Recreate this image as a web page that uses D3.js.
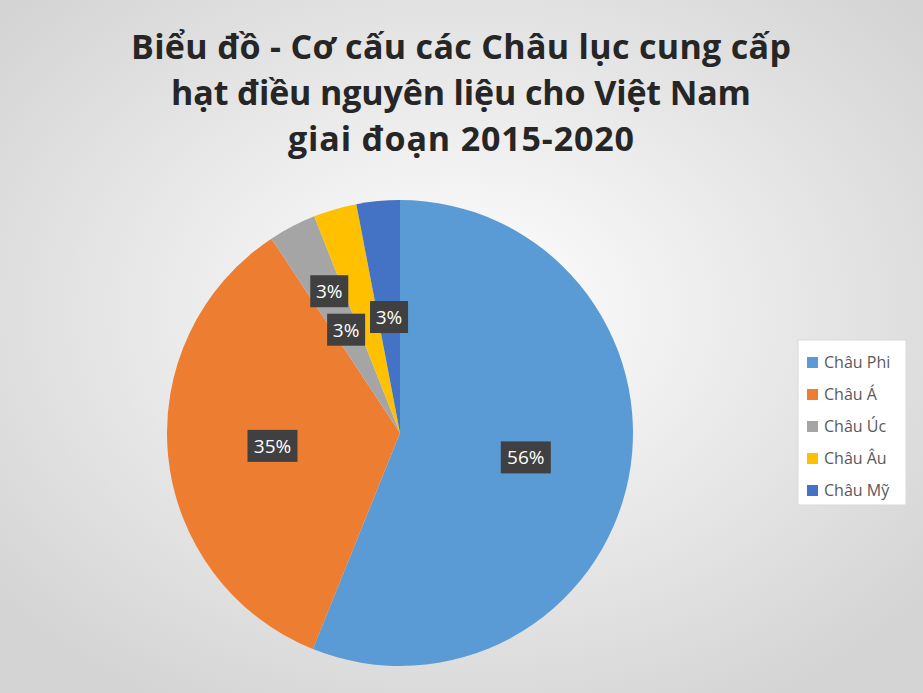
<!DOCTYPE html>
<html><head><meta charset="utf-8">
<script src="https://cdn.jsdelivr.net/npm/d3@7"></script>
<style>body{margin:0;}svg{display:block;}</style>
</head><body>
<script>
const categories = ["Châu Phi", "Châu Á", "Châu Úc", "Châu Âu", "Châu Mỹ"];
const values = [56.1, 34.6, 3.3, 3.0, 3.0];
const labels = ["56%", "35%", "3%", "3%", "3%"];
const colors = ["#5b9bd5", "#ed7d31", "#a5a5a5", "#ffc000", "#4472c4"];
const titleLines = ["Biểu đồ - Cơ cấu các Châu lục cung cấp", "hạt điều nguyên liệu cho Việt Nam", "giai đoạn 2015-2020"];

const W = 923, H = 693, cx = 400, cy = 433, R = 233;
const svg = d3.select("body").append("svg").attr("width", W).attr("height", H);

const grad = svg.append("defs").append("radialGradient").attr("id", "bg")
  .attr("cx", "50%").attr("cy", "45%").attr("r", "65%");
grad.append("stop").attr("offset", "0%").attr("stop-color", "#ffffff");
grad.append("stop").attr("offset", "100%").attr("stop-color", "#d4d4d4");
svg.append("rect").attr("width", W).attr("height", H).attr("fill", "url(#bg)");

svg.append("g").selectAll("text").data(titleLines).join("text")
  .attr("x", 461).attr("y", (d, i) => 59 + i * 46)
  .attr("text-anchor", "middle")
  .attr("font-family", "'Open Sans', sans-serif").attr("font-weight", "bold")
  .attr("font-size", 34).attr("textLength", (d, i) => [660, 580, 346][i])
  .attr("fill", "#262626").text(d => d);

const pie = d3.pie().sort(null).value(d => d)(values);
const arc = d3.arc().innerRadius(0).outerRadius(R);
const g = svg.append("g").attr("transform", `translate(${cx},${cy})`);
g.selectAll("path").data(pie).join("path")
  .attr("d", arc).attr("fill", (d, i) => colors[i]);

// label radius fraction and angular shift per slice
const labR = [0.55, 0.55, 0.5, 0.68, 0.5];
const labShift = [0, 0, 0, -0.18, 0];
pie.forEach((d, i) => {
  const a = (d.startAngle + d.endAngle) / 2 + labShift[i];
  const r = R * labR[i];
  const x = Math.sin(a) * r, y = -Math.cos(a) * r;
  const w = labels[i].length > 2 ? 50 : 38;
  g.append("rect").attr("x", x - w / 2).attr("y", y - 16).attr("width", w).attr("height", 32)
    .attr("fill", "#404040");
  g.append("text").attr("x", x).attr("y", y + 7).attr("text-anchor", "middle")
    .attr("font-family", "'Open Sans', sans-serif").attr("font-size", 19)
    .attr("fill", "#fff").text(labels[i]);
});

const lg = svg.append("g").attr("transform", "translate(798,340)");
lg.append("rect").attr("width", 108).attr("height", 165).attr("fill", "#fff").attr("stroke", "#d9d9d9");
categories.forEach((c, i) => {
  lg.append("rect").attr("x", 9).attr("y", 17 + i * 32).attr("width", 11).attr("height", 11).attr("fill", colors[i]);
  lg.append("text").attr("x", 26).attr("y", 28 + i * 32)
    .attr("font-family", "'Open Sans', sans-serif").attr("font-size", 16).attr("fill", "#595959").text(c);
});
</script>
</body></html>
